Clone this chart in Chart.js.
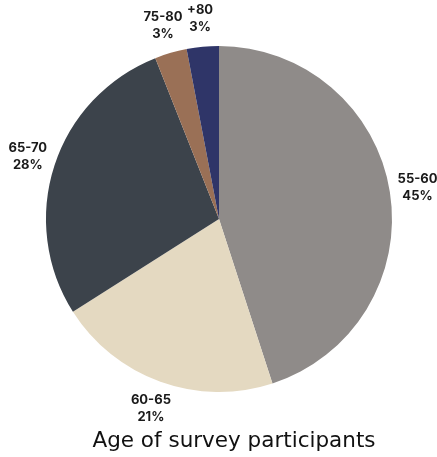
<!DOCTYPE html>
<html>
<head>
<meta charset="utf-8">
<script src="https://cdn.jsdelivr.net/npm/chart.js@4/dist/chart.umd.min.js"></script>
<style>
  html, body { margin: 0; padding: 0; background: #fff; }
  #wrap { width: 437px; height: 457px; }
</style>
</head>
<body>
<div id="wrap"><canvas id="chart"></canvas></div>
<script>
// age groups, clockwise from 12 o'clock
const ageGroups = ['55-60', '60-65', '65-70', '75-80', '+80'];
const sharePct = [45, 21, 28, 3, 3];
const sliceColors = ['#8f8b89', '#e4d9c1', '#3c434b', '#9a7056', '#2f3568'];
const chartTitle = 'Age of survey participants';

// labels outside each slice: group on first line, percent below
const outsideLabels = {
  id: 'outsideLabels',
  afterDatasetsDraw(chart) {
    const ctx = chart.ctx;
    const meta = chart.getDatasetMeta(0);
    ctx.save();
    ctx.font = 'bold 13px Inter, "DejaVu Sans", sans-serif';
    ctx.fillStyle = '#1a1a1a';
    ctx.textAlign = 'center';
    ctx.textBaseline = 'middle';
    meta.data.forEach((arc, i) => {
      const p = arc.getProps(['x', 'y', 'startAngle', 'endAngle', 'outerRadius'], true);
      const mid = (p.startAngle + p.endAngle) / 2;
      const r = p.outerRadius + 28;
      const lx = p.x + Math.cos(mid) * r;
      const ly = p.y + Math.sin(mid) * r;
      ctx.fillText(ageGroups[i], lx, ly - 8.5);
      ctx.fillText(sharePct[i] + '%', lx, ly + 8.5);
    });

    // title sits a little right of the pie centre in the original
    ctx.font = '21.5px "DejaVu Sans", sans-serif';
    ctx.fillStyle = '#111';
    ctx.textBaseline = 'alphabetic';
    ctx.fillText(chartTitle, 234, 447);
    ctx.restore();
  }
};

new Chart(document.getElementById('chart'), {
  type: 'pie',
  data: {
    labels: ageGroups,
    datasets: [{
      data: sharePct,
      backgroundColor: sliceColors,
      borderWidth: 0
    }]
  },
  options: {
    responsive: true,
    maintainAspectRatio: false,
    animation: false,
    layout: { padding: { top: 46, left: 46, right: 45, bottom: 65 } },
    plugins: {
      legend: { display: false },
      tooltip: { enabled: false },
      title: { display: false }
    }
  },
  plugins: [outsideLabels]
});
</script>
</body>
</html>
